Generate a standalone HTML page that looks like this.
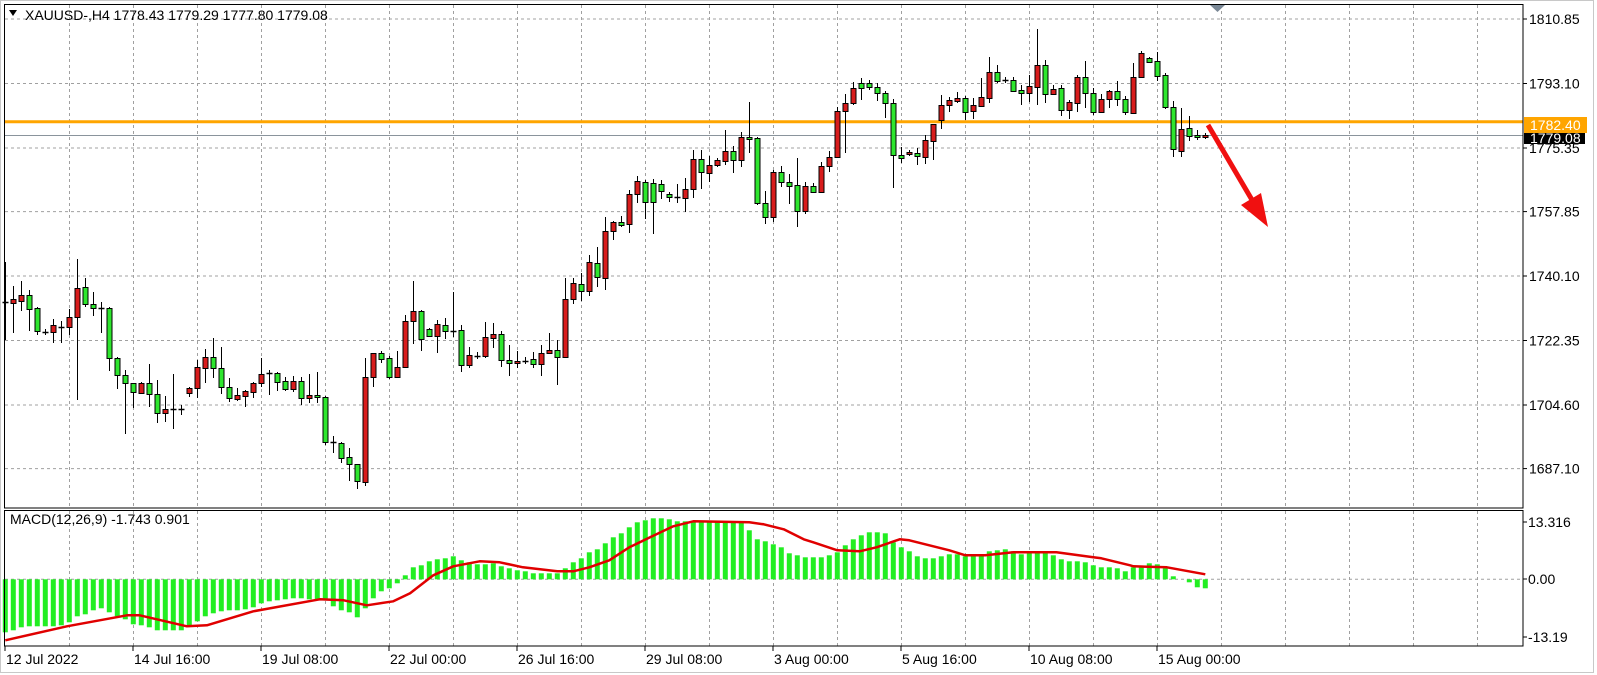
<!DOCTYPE html>
<html><head><meta charset="utf-8">
<style>
html,body{margin:0;padding:0;background:#fff;}
body{width:1597px;height:675px;overflow:hidden;position:relative;font-family:"Liberation Sans",sans-serif;}
svg{position:absolute;left:0;top:0;}
svg text{font-family:"Liberation Sans",sans-serif;font-size:14px;fill:#000;}
</style></head>
<body>
<svg id="s" width="1597" height="675" viewBox="0 0 1597 675" xmlns="http://www.w3.org/2000/svg">
<rect x="0.5" y="0.5" width="1593" height="672" fill="#fff" stroke="#c8c8c8"/>
<g id="grid" stroke="#a0a0a0" stroke-dasharray="3,3" stroke-width="1"></g>
<line x1="4" y1="135.5" x2="1523" y2="135.5" stroke="#8a949c" stroke-width="1"/>
<line x1="4" y1="121.7" x2="1523" y2="121.7" stroke="#ffa500" stroke-width="3"/>
<g id="candles"></g>
<g id="macd"></g>
<polyline id="sig" fill="none" stroke="#e00000" stroke-width="2.5" stroke-linejoin="round"/>
<rect x="4.5" y="4.5" width="1518.5" height="503.5" fill="none" stroke="#000"/>
<rect x="4.5" y="510.5" width="1518.5" height="135.5" fill="none" stroke="#000"/>
<polygon points="1210,5 1225,5 1217.5,12" fill="#7a8896"/>
<line x1="1208" y1="125" x2="1255" y2="205" stroke="#f01010" stroke-width="5"/>
<polygon points="1241,205 1261,193 1268,227" fill="#f01010"/>
<polygon points="9,10 17,10 13,16" fill="#000"/>
<text x="25" y="20">XAUUSD-,H4 1778.43 1779.29 1777.80 1779.08</text>
<text x="10" y="524">MACD(12,26,9) -1.743 0.901</text>
<g stroke="#000">
<line x1="1523" y1="19" x2="1527" y2="19"/><line x1="1523" y1="83.5" x2="1527" y2="83.5"/>
<line x1="1523" y1="148" x2="1527" y2="148"/><line x1="1523" y1="211.6" x2="1527" y2="211.6"/>
<line x1="1523" y1="276" x2="1527" y2="276"/><line x1="1523" y1="340.5" x2="1527" y2="340.5"/>
<line x1="1523" y1="405" x2="1527" y2="405"/><line x1="1523" y1="468.6" x2="1527" y2="468.6"/>
<line x1="1523" y1="522" x2="1527" y2="522"/><line x1="1523" y1="579" x2="1527" y2="579"/><line x1="1523" y1="637" x2="1527" y2="637"/>
</g>
<text x="1529" y="24">1810.85</text>
<text x="1529" y="88.5">1793.10</text>
<text x="1529" y="153">1775.35</text>
<text x="1529" y="216.6">1757.85</text>
<text x="1529" y="281">1740.10</text>
<text x="1529" y="345.5">1722.35</text>
<text x="1529" y="410">1704.60</text>
<text x="1529" y="473.6">1687.10</text>
<rect x="1524" y="133" width="61" height="11" fill="#000"/>
<text x="1530" y="143" style="fill:#fff">1779.08</text>
<rect x="1524" y="117" width="63" height="16" fill="#ffa500"/>
<text x="1530" y="130" style="fill:#fff">1782.40</text>
<text x="1528" y="527">13.316</text>
<text x="1528" y="584">0.00</text>
<text x="1528" y="642">-13.19</text>
<g stroke="#000">
<line x1="5" y1="646" x2="5" y2="651"/><line x1="133" y1="646" x2="133" y2="651"/><line x1="261" y1="646" x2="261" y2="651"/>
<line x1="389" y1="646" x2="389" y2="651"/><line x1="517" y1="646" x2="517" y2="651"/><line x1="645" y1="646" x2="645" y2="651"/>
<line x1="773" y1="646" x2="773" y2="651"/><line x1="901" y1="646" x2="901" y2="651"/><line x1="1029" y1="646" x2="1029" y2="651"/>
<line x1="1157" y1="646" x2="1157" y2="651"/>
</g>
<text x="6" y="664">12 Jul 2022</text>
<text x="134" y="664">14 Jul 16:00</text>
<text x="262" y="664">19 Jul 08:00</text>
<text x="390" y="664">22 Jul 00:00</text>
<text x="518" y="664">26 Jul 16:00</text>
<text x="646" y="664">29 Jul 08:00</text>
<text x="774" y="664">3 Aug 00:00</text>
<text x="902" y="664">5 Aug 16:00</text>
<text x="1030" y="664">10 Aug 08:00</text>
<text x="1158" y="664">15 Aug 00:00</text>
</svg>
<script>
var NS="http://www.w3.org/2000/svg";
function el(p,t,a){var e=document.createElementNS(NS,t);for(var k in a)e.setAttribute(k,a[k]);p.appendChild(e);return e;}
var g=document.getElementById('grid');
for(var x=69;x<1523;x+=64){var x0=x+0.5;el(g,'line',{x1:x0,y1:5,x2:x0,y2:508});el(g,'line',{x1:x0,y1:511,x2:x0,y2:646});}
[19,83.5,148,211.6,276,340.5,405,468.6].forEach(function(y){el(g,'line',{x1:5,y1:y,x2:1523,y2:y});});
el(g,'line',{x1:5,y1:579.3,x2:1523,y2:579.3});
var C=[[262,302,304,340,'d'],[286,299,303,333,'r'],[281,295,301,311,'r'],[290,295,309,331,'g'],[307,308,331,335,'g'],[329,332,332,335,'d'],[319,325,332,343,'r'],[321,327,327,343,'d'],[309,317,327,335,'r'],[259,288,317,400,'r'],
[278,287,304,307,'g'],[292,304,308,316,'g'],[302,308,308,333,'d'],[307,308,358,371,'g'],[357,358,375,389,'g'],[370,375,383,434,'g'],[383,383,392,408,'g'],[382,383,393,393,'r'],[364,383,394,407,'g'],[380,394,413,423,'g'],
[396,409,413,422,'r'],[374,409,409,429,'d'],[405,409,409,415,'d'],[387,388,393,397,'r'],[360,367,388,398,'r'],[349,357,368,383,'r'],[338,357,368,378,'g'],[347,368,387,394,'g'],[378,387,398,402,'g'],[388,395,399,401,'r'],
[390,391,396,407,'r'],[382,383,392,398,'r'],[358,374,383,387,'r'],[370,373,373,395,'d'],[372,373,382,391,'g'],[377,381,389,391,'g'],[376,381,389,392,'r'],[377,381,398,405,'g'],[374,395,398,403,'r'],[372,395,397,403,'g'],
[396,397,442,445,'g'],[436,442,442,453,'d'],[442,443,458,463,'g'],[448,457,464,481,'g'],[464,464,481,489,'g'],[358,377,482,486,'r'],[353,353,377,387,'r'],[351,353,359,363,'g'],[356,358,377,379,'g'],[351,367,377,377,'r'],
[315,321,367,368,'r'],[281,311,321,344,'r'],[310,311,339,351,'g'],[328,329,336,337,'g'],[320,324,336,353,'r'],[318,325,331,339,'g'],[292,331,331,337,'d'],[325,330,365,372,'g'],[347,355,365,368,'r'],[352,356,356,359,'d'],
[322,337,356,358,'r'],[323,334,338,348,'r'],[331,334,360,367,'g'],[345,360,363,376,'g'],[351,361,363,368,'r'],[357,361,361,364,'d'],[352,359,364,368,'g'],[345,353,364,376,'r'],[333,350,353,354,'r'],[340,350,357,385,'g'],
[278,299,357,358,'r'],[278,283,299,304,'r'],[273,284,291,301,'g'],[255,262,291,296,'r'],[247,263,277,287,'g'],[217,231,278,290,'r'],[221,222,231,240,'r'],[216,222,225,227,'g'],[190,194,224,233,'r'],[176,181,194,203,'r'],
[180,182,202,219,'g'],[179,183,202,234,'g'],[180,184,191,199,'g'],[192,194,197,202,'g'],[184,197,197,203,'d'],[178,189,198,212,'r'],[150,159,189,198,'r'],[150,159,172,189,'g'],[156,165,173,182,'r'],[158,160,165,167,'r'],
[130,151,161,165,'r'],[146,151,160,173,'g'],[132,137,160,167,'r'],[102,137,139,153,'g'],[137,138,203,205,'g'],[191,203,217,224,'g'],[170,172,217,222,'r'],[166,172,182,187,'g'],[174,182,186,204,'g'],[158,185,211,227,'g'],
[182,186,211,214,'r'],[183,186,192,193,'g'],[162,166,192,193,'r'],[151,157,166,172,'r'],[107,111,157,158,'r'],[94,103,111,153,'r'],[82,88,103,105,'r'],[78,83,88,100,'g'],[80,83,87,90,'g'],[83,87,93,101,'g'],
[91,93,103,118,'g'],[99,103,155,188,'g'],[147,155,158,163,'g'],[150,152,154,156,'r'],[148,153,156,165,'g'],[135,140,157,164,'r'],[124,124,141,160,'r'],[95,105,120,129,'r'],[97,100,105,112,'r'],[92,98,101,103,'r'],
[96,98,112,120,'g'],[98,105,111,119,'r'],[78,97,106,107,'r'],[57,72,98,103,'r'],[65,72,81,83,'g'],[77,80,80,83,'d'],[77,80,91,92,'g'],[85,90,93,105,'g'],[75,86,93,102,'r'],[29,65,87,105,'r'],
[60,65,94,103,'g'],[85,89,94,95,'r'],[85,88,110,116,'g'],[100,102,110,119,'r'],[75,77,103,112,'r'],[61,77,93,108,'g'],[88,93,112,115,'g'],[94,99,112,112,'r'],[90,91,99,108,'r'],[81,91,99,106,'g'],
[96,99,112,115,'g'],[63,77,113,113,'r'],[51,53,77,78,'r'],[57,58,62,63,'g'],[52,61,76,81,'g'],[73,75,107,109,'g'],[101,107,149,157,'g'],[108,129,151,157,'r'],[116,128,136,141,'g'],[130,135,137,140,'g'],[133,135,137,139,'r']];
var cg=document.getElementById('candles');
C.forEach(function(c,k){var x=Math.round(5.3+8*k)+0.5;
 el(cg,'line',{x1:x,y1:c[0],x2:x,y2:c[3],stroke:'#000','stroke-width':1});
 if(c[4]=='d'||c[2]-c[1]<1){el(cg,'line',{x1:x-3,y1:c[1]+0.5,x2:x+3,y2:c[1]+0.5,stroke:'#000','stroke-width':1.5});}
 else el(cg,'rect',{x:x-2.5,y:c[1]+0.5,width:5,height:c[2]-c[1],fill:c[4]=='r'?'#d81c1c':'#2ee62e',stroke:'#000','stroke-width':1});
});
var H=[-53,-51,-48,-47,-47,-47,-47,-46,-43,-37,-35,-31,-29,-33,-37,-40,-45,-46,-48,-51,-51,-51,-51,-46,-42,-37,-34,-32,-31,-31,-30,-28,-24,-22,-21,-20,-19,-19,-20,-20,-21,-27,-31,-33,-38,-29,-19,-12,-9,-4,4,12,14,18,20,21,23,19,17,15,15,16,
13,11,9,8,6,6,6,6,11,17,21,27,30,36,42,46,52,57,59,61,61,60,58,58,57,57,57,57,57,57,57,49,40,38,35,32,26,24,22,
22,22,24,27,34,40,44,47,47,46,37,32,28,23,21,21,23,25,25,23,23,24,28,29,30,28,25,26,26,26,24,20,18,18,17,14,12,12,11,8,12,13,16,15,11,3,0,-3,-8,-9];
var mg=document.getElementById('macd'),Z=579.3;
H.forEach(function(h,k){var x=5.3+8*k;if(Math.abs(h)<0.5)return;
 el(mg,'rect',{x:x-2.5,y:h>0?Z-h:Z,width:5,height:Math.abs(h),fill:'#22ee22'});});
var S=[[0,-61],[7.7,-47],[15.2,-36],[16.8,-36],[22.7,-47],[25.2,-46],[31,-32],[39.3,-20],[42.3,-21],[45.2,-26],[48.5,-22],[50.6,-14],[53.5,4],[56,13],[59.3,18],[61.8,17],[64.7,12],[69,8],[71,8],[73,12],[75.5,19],[78,32],[80.6,42],[83.5,53],[86,58],[93,57],[94.8,55],[97.3,50],[99.8,40],[101,37],[104,29],[106.8,28],[108.9,32],[111.8,40],[113,39],[115,35],[118,29],[120,24],[122.5,24],[126,27],[131.4,27],[136,22],[137,21],[140.6,14],[141,13],[145.2,12],[150,5]];
document.getElementById('sig').setAttribute('points',S.map(function(p){return (5.3+8*p[0]).toFixed(1)+','+(Z-p[1]).toFixed(1);}).join(' '));
</script>
</body></html>
